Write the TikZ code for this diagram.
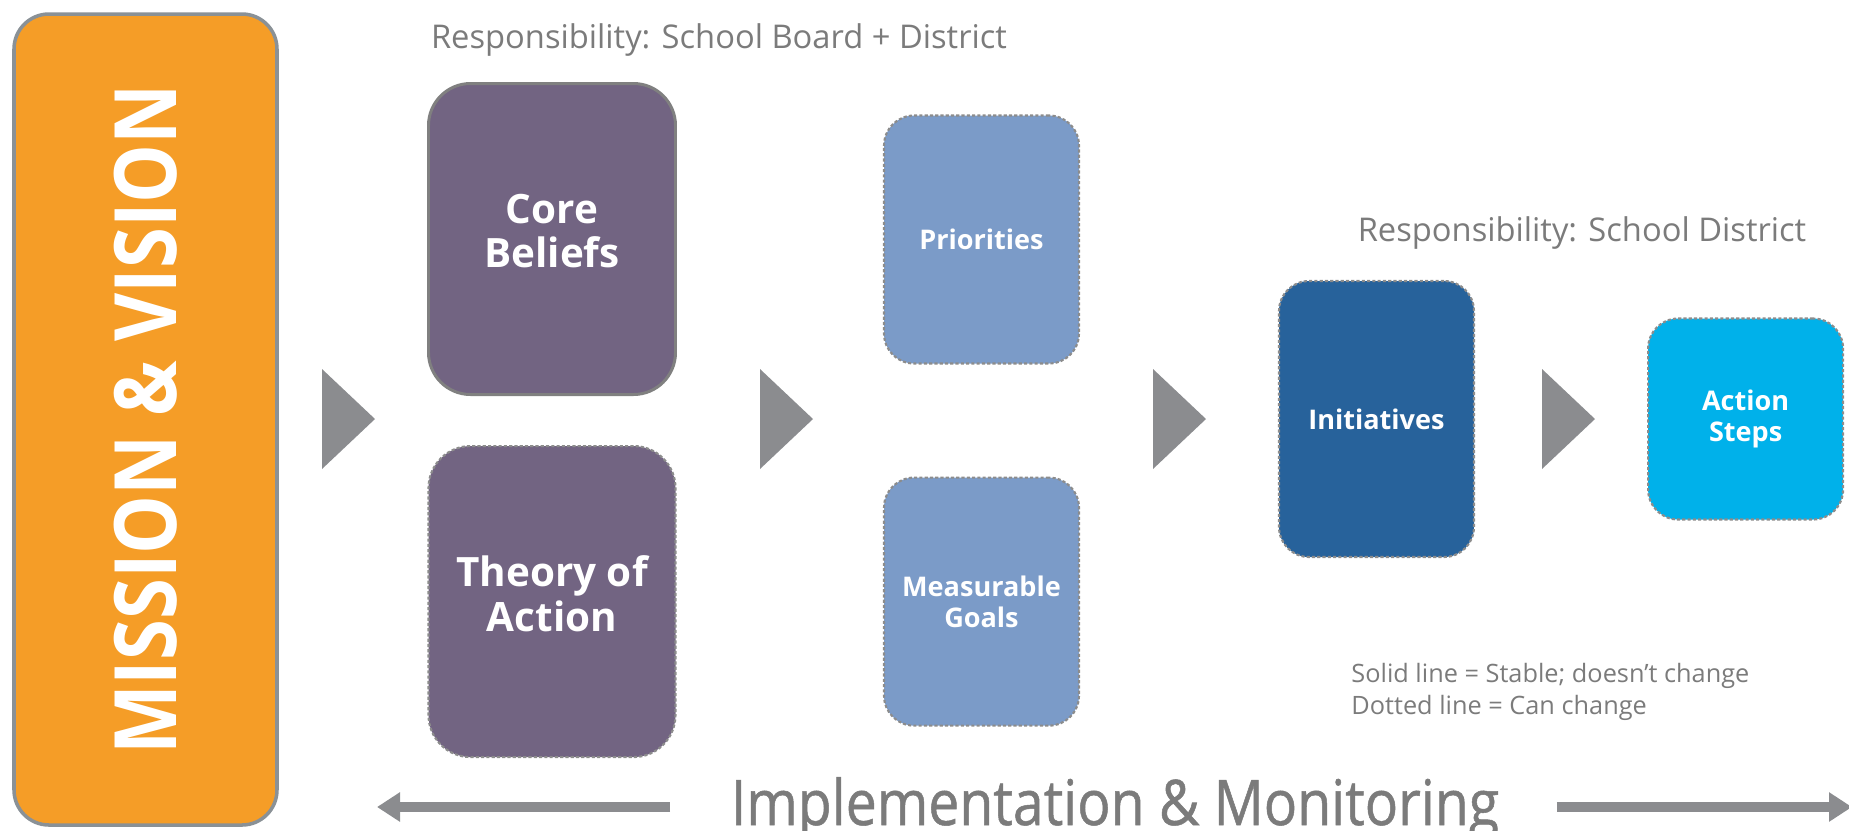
\documentclass[tikz,border=0pt]{standalone}
\usepackage{fontspec}
\setmainfont{Open Sans}
\newfontfamily\condfont[FakeStretch=0.86]{Open Sans}
\newfontfamily\bannerfont[FakeStretch=0.88, FakeBold=0.8]{Open Sans}
\usetikzlibrary{arrows.meta, positioning}

\definecolor{mvorange}{HTML}{F59D27}
\definecolor{mvborder}{HTML}{8A9196}
\definecolor{beliefpurple}{HTML}{726482}
\definecolor{goalblue}{HTML}{7B9BC8}
\definecolor{initblue}{HTML}{27629B}
\definecolor{stepcyan}{HTML}{00B1EA}
\definecolor{flowgray}{HTML}{8B8C8F}
\definecolor{notegray}{HTML}{7B7B7B}

\begin{document}
\begin{tikzpicture}[
    >=Stealth,
    mission/.style={
      draw=mvborder, line width=1pt, fill=mvorange,
      rounded corners=0.35cm,
      minimum width=2.63cm, minimum height=8.11cm},
    stable/.style={draw=gray, solid, line width=0.85pt},
    changing/.style={draw=gray!90, line width=0.6pt,
      dash pattern=on 0.9pt off 0.6pt},
    bigbox/.style={
      changing, fill=beliefpurple, rounded corners=0.42cm,
      minimum width=2.47cm, minimum height=3.11cm,
      text=white, align=center, text depth=4.6pt,
      font=\fontsize{11.5}{12.6}\selectfont\bfseries},
    smallbox/.style={
      changing, rounded corners=0.3cm,
      minimum width=1.95cm, minimum height=2.48cm,
      text=white, align=center,
      font=\fontsize{7.7}{8.8}\selectfont\bfseries},
    resp/.style={text=notegray, font=\fontsize{9.3}{11}\selectfont},
    bigarrow/.style={->, flowgray, line width=2.8pt,
      >={Triangle[length=2.3mm, width=2.8mm]}},
]
\useasboundingbox (0,0) rectangle (18.49,-8.30);

% ---- left column ----
\node[mission] (mv) at (1.455,-4.195) {};
\node[rotate=90, text=white,
      font=\condfont\fontsize{24.5}{26}\selectfont\bfseries]
  (mvtext) at (mv.center) {MISSION \& VISION};

% ---- board + district boxes ----
\node[bigbox, stable] (core) at (5.52,-2.39) {Core\\Beliefs};
\node[bigbox, below=0.49cm of core] (toa) {Theory of\\Action};

\node[smallbox, fill=goalblue] (prio) at (9.815,-2.395) {Priorities};
\node[smallbox, fill=goalblue, below=1.12cm of prio] (goals) {Measurable\\Goals};

% ---- district boxes ----
\node[smallbox, fill=initblue, minimum height=2.76cm] (init) at (13.765,-4.19) {Initiatives};
\node[smallbox, fill=stepcyan, minimum height=2.01cm, right=1.72cm of init] (steps) {Action\\Steps};

% ---- flow triangles ----
\foreach \x in {3.22, 7.60, 11.53, 15.42}
  \fill[flowgray] (\x,-3.69) -- ++(0.53,-0.50) -- ++(-0.53,-0.50) -- cycle;

% ---- responsibility labels ----
\node[resp] (rbd) at (7.19,-0.40) {Responsibility: School Board + District};
\node[resp] (rd) at (15.82,-2.33) {Responsibility: School District};

% ---- legend ----
\node[anchor=west, align=left, text=notegray,
      font=\fontsize{7.2}{9}\selectfont]
  (legend) at (13.39,-6.92) {Solid line = Stable; doesn't change\\Dotted line = Can change};

% ---- implementation & monitoring ----
\node[anchor=base, inner sep=0pt, text=notegray,
      font=\bannerfont\fontsize{17.9}{19}\selectfont] (impl) at (11.15,-8.25)
  {Implementation \& Monitoring};
\coordinate (leftend) at (3.77,-8.07);
\coordinate (rightend) at (18.52,-8.07);
\draw[bigarrow] (impl.west |- leftend) ++(-0.60,0) -- (leftend);
\draw[bigarrow] (impl.east |- rightend) ++(0.57,0) -- (rightend);

\end{tikzpicture}
\end{document}
